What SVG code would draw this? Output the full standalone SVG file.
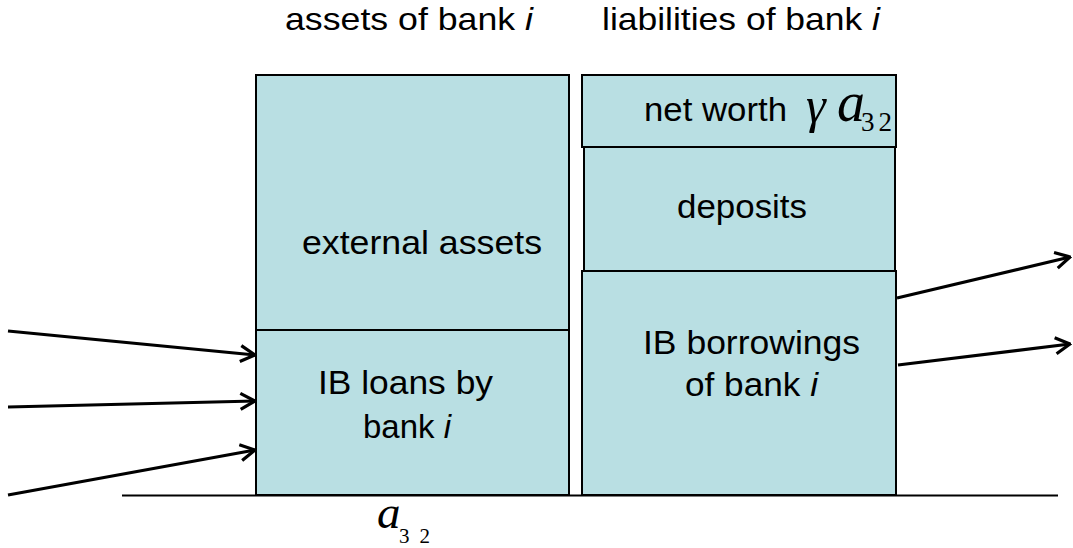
<svg xmlns="http://www.w3.org/2000/svg" width="1073" height="548" viewBox="0 0 1073 548">
<style>
.box{fill:#b9dfe3;stroke:#000;stroke-width:2}
.t{font-family:"Liberation Sans",Arial,sans-serif;font-size:34px;fill:#000}
.h{font-family:"Liberation Sans",Arial,sans-serif;font-size:32px;fill:#000}
.ti{font-style:italic}
.m{font-family:"Liberation Serif","Times New Roman",serif;font-style:italic;fill:#000}
.n{font-family:"Liberation Serif","Times New Roman",serif;fill:#000}
.c{stroke:#000;stroke-width:3.2;fill:none}
</style>
<defs>
<marker id="ah" viewBox="0 0 17 20" refX="15.5" refY="10" markerWidth="17" markerHeight="20" markerUnits="userSpaceOnUse" orient="auto">
<path d="M1,2 L15.5,10 L1,18" fill="none" stroke="#000" stroke-width="3.2"/>
</marker>
</defs>
<rect width="1073" height="548" fill="#fff"/>
<g id="titles">
<text class="h" x="285" y="30" textLength="248" lengthAdjust="spacingAndGlyphs">assets of bank <tspan class="ti">i</tspan></text>
<text class="h" x="602" y="30" textLength="278" lengthAdjust="spacingAndGlyphs">liabilities of bank <tspan class="ti">i</tspan></text>
</g>
<g id="external-assets">
<rect class="box" x="256" y="75" width="313" height="255"/>
<text class="t" x="302" y="254" textLength="240" lengthAdjust="spacingAndGlyphs">external  assets</text>
</g>
<g id="ib-loans">
<rect class="box" x="256" y="330" width="313" height="165"/>
<text class="t" x="318" y="394" textLength="175" lengthAdjust="spacingAndGlyphs">IB loans by</text>
<text class="t" x="363" y="438" textLength="88" lengthAdjust="spacingAndGlyphs">bank <tspan class="ti">i</tspan></text>
</g>
<g id="net-worth">
<rect class="box" x="582" y="75" width="314" height="72"/>
<text class="t" x="644" y="121" textLength="143" lengthAdjust="spacingAndGlyphs">net worth</text>
<text class="m" x="806" y="122" font-size="50">γ</text>
<text class="m" x="837" y="121" font-size="56">a</text>
<text class="n" x="861" y="131" font-size="27" textLength="31" lengthAdjust="spacing">32</text>
</g>
<g id="deposits">
<rect class="box" x="584" y="147" width="311" height="124"/>
<text class="t" x="677" y="218" textLength="130" lengthAdjust="spacingAndGlyphs">deposits</text>
</g>
<g id="ib-borrowings">
<rect class="box" x="582" y="271" width="314" height="224"/>
<text class="t" x="643" y="354" textLength="217" lengthAdjust="spacingAndGlyphs">IB borrowings</text>
<text class="t" x="685" y="396" textLength="133" lengthAdjust="spacingAndGlyphs">of bank <tspan class="ti">i</tspan></text>
</g>
<g id="a32-label">
<text class="m" x="377" y="528" font-size="47">a</text>
<text class="n" x="399" y="543" font-size="21" textLength="31" lengthAdjust="spacing">32</text>
</g>
<g id="connectors">
<line x1="122" y1="495.5" x2="1058" y2="495.5" stroke="#000" stroke-width="2"/>
<line class="c" x1="8" y1="331" x2="255" y2="355" marker-end="url(#ah)"/>
<line class="c" x1="8" y1="407" x2="255" y2="401" marker-end="url(#ah)"/>
<line class="c" x1="8" y1="495" x2="255" y2="450" marker-end="url(#ah)"/>
<line class="c" x1="897" y1="298" x2="1070" y2="257" marker-end="url(#ah)"/>
<line class="c" x1="898" y1="365" x2="1070" y2="344" marker-end="url(#ah)"/>
</g>
</svg>
